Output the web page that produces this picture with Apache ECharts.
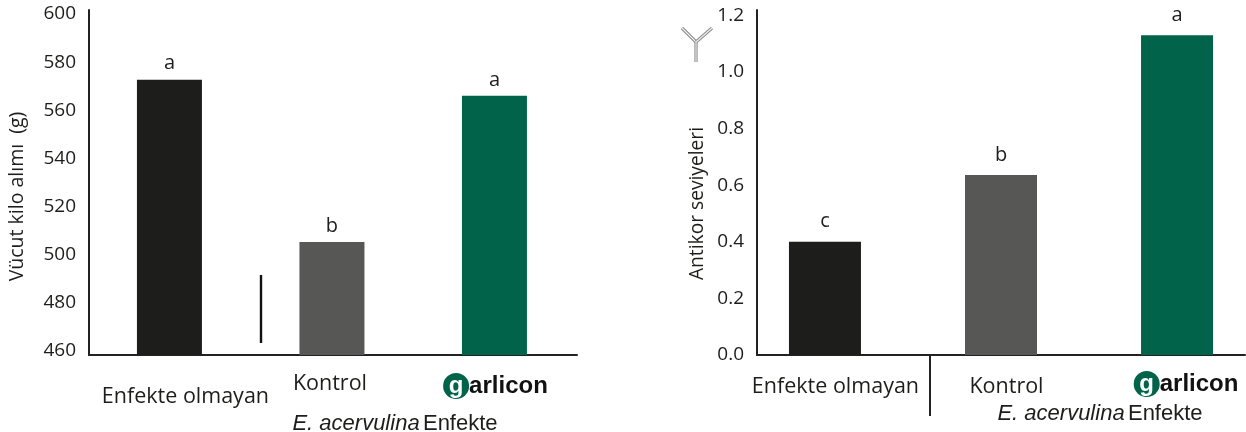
<!DOCTYPE html>
<html><head><meta charset="utf-8">
<style>html,body{margin:0;padding:0;background:#fff}#c{width:1246px;height:432px}</style>
<script src="https://cdn.jsdelivr.net/npm/echarts@6/dist/echarts.min.js"></script>
</head><body><div id="c"></div>
<script>
const categories = ['Enfekte olmayan', 'Kontrol', 'garlicon'];
const weightValues = [572.7, 505.3, 566];
const weightLetters = ['a', 'b', 'a'];
const weightTicks = [460, 480, 500, 520, 540, 560, 580, 600];
const antibodyValues = [0.4, 0.636, 1.13];
const antibodyLetters = ['c', 'b', 'a'];
const antibodyTicks = [0, 0.2, 0.4, 0.6, 0.8, 1.0, 1.2];
const barColors = ['#1d1d1b', '#575756', '#00634a'];
const INK = '#1d1d1b', FONT = '"Open Sans"', ARIAL = '"Liberation Sans"';

function xLabelRich(dx, dy) {
  return {
    t0: {fontFamily: FONT, fontSize: 21.5, color: INK, padding: [dy[0], 0, 0, dx[0] > 0 ? dx[0] * 2 : 0]},
    t1: {fontFamily: FONT, fontSize: 21.5, color: INK, padding: [dy[1], dx[1] < 0 ? -dx[1] * 2 : 0, 0, dx[1] > 0 ? dx[1] * 2 : 0]},
    sp: {width: dx[2] > 0 ? dx[2] * 2 : 0, fontSize: 10, padding: [dy[2], 0, 0, 0]},
    g: {backgroundColor: '#00634a', color: '#fff', fontFamily: ARIAL, fontWeight: 'bold', fontSize: 24,
        width: 26, height: 26, lineHeight: 26, borderRadius: 13, align: 'right', padding: [dy[2], 0, 0, 0]},
    l: {color: '#111', fontFamily: ARIAL, fontWeight: 'bold', fontSize: 24, padding: [dy[2], 0, 0, 0]}
  };
}
function xFormatter(v) {
  if (v === 0) return '{t0|' + categories[0] + '}';
  if (v === 1) return '{t1|' + categories[1] + '}';
  return '{sp| }{g|' + categories[2][0] + '}{l|' + categories[2].slice(1) + '}';
}
function xAxis(idx, min, max, dx, dy, margin, nameDx, nameGap) {
  return {
    type: 'value', gridIndex: idx, min, max, position: 'bottom',
    splitLine: {show: false}, axisTick: {show: false},
    axisLine: {show: true, lineStyle: {color: '#222', width: 2}},
    axisLabel: {customValues: [0, 1, 2], margin, formatter: xFormatter, rich: xLabelRich(dx, dy), hideOverlap: false},
    name: '{i|E. acervulina} {r|Enfekte}', nameLocation: 'middle', nameGap,
    nameTextStyle: {padding: [0, 0, 0, nameDx * 2],
      rich: {i: {fontFamily: ARIAL, fontStyle: 'italic', fontSize: 22, color: INK},
             r: {fontFamily: ARIAL, fontSize: 22, color: INK}}}
  };
}
function yAxis(idx, min, max, ticks, fmt, name, nameGap, margin, nameSize, labelPad, nameShift) {
  return {
    type: 'value', gridIndex: idx, min, max,
    splitLine: {show: false}, axisTick: {show: false},
    axisLine: {show: true, onZero: false, lineStyle: {color: '#222', width: 2}},
    axisLabel: {customValues: ticks, formatter: fmt, margin, padding: [labelPad, 0, 0, 0], fontFamily: FONT, fontSize: 19, color: INK,
                showMinLabel: true, showMaxLabel: true},
    name, nameLocation: 'middle', nameGap, nameRotate: 90,
    nameTextStyle: {fontFamily: FONT, fontSize: nameSize, color: INK, padding: [0, nameShift * 2, 0, 0]}
  };
}
function barSeries(idx, values, letters, width, distance) {
  return {
    type: 'bar', xAxisIndex: idx, yAxisIndex: idx, barWidth: width,
    data: values.map((v, i) => ({value: [i, v], itemStyle: {color: barColors[i]}})),
    label: {show: true, position: 'top', distance, fontFamily: FONT, fontSize: 20, color: INK,
            formatter: p => letters[p.dataIndex]}
  };
}
function antibodyIcon() {
  const seg = (x1, y1, x2, y2) => [
    {type: 'line', shape: {x1, y1, x2, y2}, style: {stroke: '#8a8a8a', lineWidth: 3.2}},
    {type: 'line', shape: {x1, y1, x2, y2}, style: {stroke: '#f2f2f2', lineWidth: 1.1}}
  ];
  return [...seg(682, 28, 696, 42), ...seg(712, 28, 696, 42), ...seg(696, 42, 696, 62)];
}
const chart = echarts.init(document.getElementById('c'), null, {renderer: 'canvas'});
chart.setOption({
  animation: false, backgroundColor: '#fff',
  grid: [
    {left: 89, top: 10, width: 488, height: 345, outerBoundsMode: 'none'},
    {left: 757, top: 10, width: 488, height: 345, outerBoundsMode: 'none'}
  ],
  xAxis: [
    xAxis(0, -0.495, 2.508, [16, -2, 1], [13, 0, 0], 18, 62, 54),
    xAxis(1, -0.386, 2.386, [10.5, 5.5, 9], [5, 5, 0], 16, 99, 47)
  ],
  yAxis: [
    yAxis(0, 458.34, 601.66, weightTicks, v => String(v), 'Vücut kilo alımı  (g)', 62, 13, 19.5, 6, 14),
    yAxis(1, 0, 1.219, antibodyTicks, v => v.toFixed(1), 'Antikor seviyeleri', 50, 13, 19.2, 2, 21)
  ],
  series: [barSeries(0, weightValues, weightLetters, 65, 6), barSeries(1, antibodyValues, antibodyLetters, 72, 10)],
  graphic: [
    {type: 'line', shape: {x1: 261, y1: 275, x2: 261, y2: 343}, style: {stroke: '#111', lineWidth: 2.4}},
    {type: 'line', shape: {x1: 930, y1: 355, x2: 930, y2: 416}, style: {stroke: '#222', lineWidth: 2}},
    ...antibodyIcon()
  ]
});
</script></body></html>
